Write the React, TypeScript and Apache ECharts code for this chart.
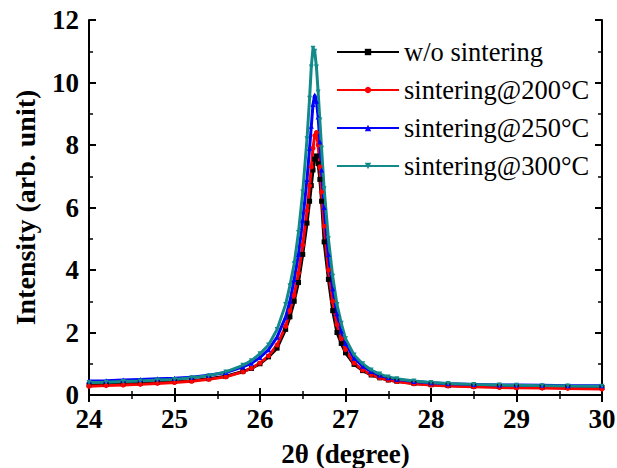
import React, { useEffect, useRef } from "react";
import * as echarts from "echarts";

const twoTheta = [24.0, 24.2, 24.4, 24.6, 24.8, 25.0, 25.2, 25.4, 25.6, 25.8, 25.9, 26.0, 26.1, 26.2, 26.3, 26.35, 26.4, 26.45, 26.5, 26.55, 26.58, 26.6, 26.62, 26.64, 26.66, 26.68, 26.7, 26.72, 26.75, 26.8, 26.85, 26.9, 26.95, 27.0, 27.1, 27.2, 27.3, 27.4, 27.5, 27.6, 27.8, 28.0, 28.2, 28.5, 28.8, 29.0, 29.3, 29.6, 30.0];

const woSintering = [0.32, 0.34, 0.36, 0.38, 0.40, 0.43, 0.46, 0.52, 0.60, 0.75, 0.85, 1.0, 1.22, 1.5, 2.1, 2.5, 3.0, 3.6, 4.5, 5.5, 6.2, 6.7, 7.2, 7.55, 7.65, 7.4, 6.9, 6.2, 4.9, 3.7, 2.7, 2.0, 1.65, 1.35, 0.98, 0.78, 0.64, 0.55, 0.48, 0.44, 0.37, 0.33, 0.3, 0.28, 0.27, 0.26, 0.25, 0.25, 0.24];
const sint200 = [0.28, 0.30, 0.32, 0.34, 0.37, 0.40, 0.44, 0.50, 0.58, 0.74, 0.86, 1.02, 1.25, 1.6, 2.2, 2.7, 3.2, 3.9, 4.8, 5.9, 6.7, 7.3, 7.9, 8.3, 8.4, 8.0, 7.3, 6.5, 5.4, 4.0, 3.0, 2.25, 1.8, 1.45, 1.02, 0.8, 0.65, 0.55, 0.48, 0.43, 0.36, 0.32, 0.29, 0.26, 0.24, 0.23, 0.22, 0.21, 0.19];
const sint250 = [0.45, 0.46, 0.48, 0.50, 0.52, 0.54, 0.57, 0.63, 0.72, 0.9, 1.02, 1.2, 1.45, 1.85, 2.5, 3.0, 3.7, 4.5, 5.6, 6.9, 7.9, 8.6, 9.3, 9.6, 9.4, 8.9, 8.1, 7.2, 6.0, 4.5, 3.4, 2.6, 2.05, 1.65, 1.18, 0.92, 0.75, 0.63, 0.55, 0.5, 0.43, 0.39, 0.36, 0.34, 0.32, 0.32, 0.31, 0.3, 0.3];
const sint300 = [0.4, 0.41, 0.43, 0.45, 0.48, 0.5, 0.55, 0.62, 0.74, 0.95, 1.1, 1.32, 1.6, 2.1, 2.9, 3.5, 4.2, 5.2, 6.5, 8.2, 9.5, 10.5, 11.1, 11.0, 10.5, 9.7, 8.8, 7.9, 6.6, 5.0, 3.8, 2.9, 2.3, 1.8, 1.28, 1.0, 0.8, 0.67, 0.58, 0.52, 0.45, 0.4, 0.37, 0.34, 0.32, 0.31, 0.3, 0.29, 0.28];

const seriesNames = ["w/o sintering", "sintering@200\u00b0C", "sintering@250\u00b0C", "sintering@300\u00b0C"];
const seriesColors = ["#000000", "#ff0000", "#0000ff", "#138a8a"];
const seriesSymbols = ["rect", "circle", "triangle", "triangle"];
const seriesRotate = [0, 0, 0, 180];
const seriesValues = [woSintering, sint200, sint250, sint300];

const font = "Liberation Serif";

export default function App() {
  const ref = useRef<HTMLDivElement>(null);
  useEffect(() => {
    if (!ref.current) return;
    const chart = echarts.init(ref.current, null, { renderer: "svg" });
    const axisCommon = {
      type: "value" as const,
      axisLine: { show: true, lineStyle: { color: "#000", width: 2 } },
      axisTick: { show: true, inside: true, length: 7, lineStyle: { color: "#000", width: 2 } },
      minorTick: { show: true, splitNumber: 2, length: 4, lineStyle: { color: "#000", width: 1.5 } },
      splitLine: { show: false },
    };
    chart.setOption({
      animation: false,
      backgroundColor: "#fff",
      grid: { left: 89, right: 15, top: 20, bottom: 73, outerBoundsMode: "none", containLabel: false },
      legend: {
        orient: "vertical",
        left: 331,
        top: 33,
        itemWidth: 62,
        itemHeight: 8,
        itemGap: 10,
        data: seriesNames,
        textStyle: { fontFamily: font, fontSize: 26.5, color: "#000", lineHeight: 28 },
      },
      xAxis: [
        {
          ...axisCommon,
          min: 24,
          max: 30,
          interval: 1,
          position: "bottom",
          axisLabel: { fontFamily: font, fontWeight: "bold", fontSize: 27, color: "#000", margin: 10 },
          name: "2\u03b8 (degree)",
          nameLocation: "middle",
          nameGap: 45,
          nameTextStyle: { fontFamily: font, fontWeight: "bold", fontSize: 27, color: "#000" },
        },
        {
          ...axisCommon,
          min: 24,
          max: 30,
          interval: 1,
          position: "top",
          axisLabel: { show: false },
        },
      ],
      yAxis: [
        {
          ...axisCommon,
          min: 0,
          max: 12,
          interval: 2,
          position: "left",
          axisLabel: { fontFamily: font, fontWeight: "bold", fontSize: 27, color: "#000", margin: 10 },
          name: "Intensity (arb. unit)",
          nameLocation: "middle",
          nameGap: 50,
          nameTextStyle: { fontFamily: font, fontWeight: "bold", fontSize: 28, color: "#000" },
        },
        {
          ...axisCommon,
          min: 0,
          max: 12,
          interval: 2,
          position: "right",
          axisLabel: { show: false },
        },
      ],
      series: seriesNames.map((name, i) => ({
        name,
        type: "line",
        xAxisIndex: 0,
        yAxisIndex: 0,
        data: twoTheta.map((x, j) => [x, seriesValues[i][j]]),
        symbol: seriesSymbols[i],
        symbolRotate: seriesRotate[i],
        symbolSize: 5,
        showSymbol: true,
        color: seriesColors[i],
        lineStyle: { color: seriesColors[i], width: 3 },
        itemStyle: { color: seriesColors[i] },
      })),
    });
    return () => chart.dispose();
  }, []);
  return <div ref={ref} style={{ width: 617, height: 468, position: "absolute", left: 0, top: 0 }} />;
}
